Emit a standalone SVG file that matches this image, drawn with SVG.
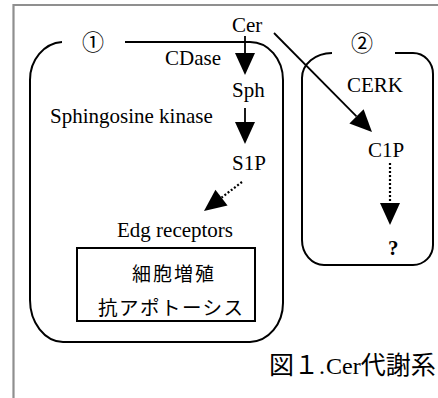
<svg xmlns="http://www.w3.org/2000/svg" width="438" height="398" viewBox="0 0 438 398">
<style>
.t{font-family:"Liberation Serif","Times New Roman",serif;font-size:21px;fill:#000}
.c{font-family:"Liberation Serif","Times New Roman",serif;font-size:24px;fill:#000}
.j{font-family:"Noto Sans CJK JP","Noto Sans CJK SC",sans-serif;fill:#000}
.box{fill:none;stroke:#000;stroke-width:2}
.ln{fill:none;stroke:#000;stroke-width:1.8}
.dot{fill:none;stroke:#000;stroke-width:2.2;stroke-dasharray:2 2}
</style>
<defs>
<marker id="ah" markerUnits="userSpaceOnUse" markerWidth="22" markerHeight="20" refX="0" refY="10" orient="auto" overflow="visible">
<path d="M0,0 L22,10 L0,20 z" fill="#000"/>
</marker>
</defs>
<rect width="438" height="398" fill="#fff"/>
<path d="M13.5,398 V5 H438" fill="none" stroke="#8f8f8f" stroke-width="2.2"/>
<g id="region1">
<path class="box" d="M62,42 A34,38 0 0 0 30,80 V300 A34,42 0 0 0 63,342 H250 A34,39 0 0 0 283,303 V80 A33,38 0 0 0 250,42 H125"/>
<text class="j" x="93" y="50" font-size="22" text-anchor="middle">①</text>
</g>
<g id="region2">
<path class="box" d="M332,53 A30,25 0 0 0 302,78 V240 A22,25 0 0 0 324,265 H413 A20,20 0 0 0 433,245 V74 A20,21 0 0 0 413,53 H395"/>
<text class="j" x="362" y="51" font-size="22" text-anchor="middle">②</text>
</g>
<g id="connectors">
<line class="ln" x1="245" y1="36" x2="245" y2="53" marker-end="url(#ah)"/>
<line class="ln" x1="245" y1="108" x2="245" y2="122" marker-end="url(#ah)"/>
<line class="dot" x1="242" y1="182" x2="221.5" y2="197.6" marker-end="url(#ah)"/>
<line class="ln" x1="274" y1="33" x2="356.5" y2="116.4" marker-end="url(#ah)"/>
<line class="dot" x1="390" y1="163" x2="390" y2="203" marker-end="url(#ah)"/>
</g>
<g id="cer"><text class="t" x="232" y="32">Cer</text></g>
<g id="cdase"><text class="t" x="165" y="65">CDase</text></g>
<g id="sph"><text class="t" x="232" y="97">Sph</text></g>
<g id="sphk"><text class="t" x="50" y="123">Sphingosine kinase</text></g>
<g id="s1p"><text class="t" x="232" y="170">S1P</text></g>
<g id="edg"><text class="t" x="117" y="237">Edg receptors</text></g>
<g id="cerk"><text class="t" x="347" y="92">CERK</text></g>
<g id="c1p"><text class="t" x="368" y="157">C1P</text></g>
<g id="unknown"><text class="t" x="388" y="255" font-weight="bold">?</text></g>
<g id="effects">
<rect class="box" x="77" y="248" width="178" height="73"/>
<text class="j" x="132" y="281" font-size="19" letter-spacing="2">細胞増殖</text>
<text class="j" x="98" y="314.5" font-size="19.5" letter-spacing="1.5">抗アポトーシス</text>
</g>
<g id="caption">
<text x="269" y="374"><tspan class="j" font-size="25">図１</tspan><tspan class="c">.</tspan><tspan class="c" dx="1">Cer</tspan><tspan class="j" font-size="25">代謝系</tspan></text>
</g>
</svg>
